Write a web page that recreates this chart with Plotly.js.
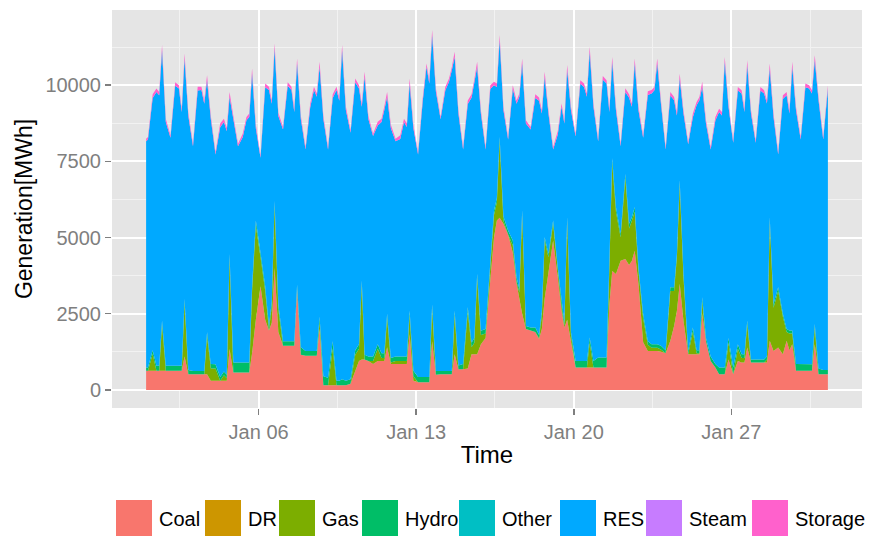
<!DOCTYPE html>
<html>
<head>
<meta charset="utf-8">
<script src="https://cdn.plot.ly/plotly-3.0.1.min.js"></script>
<style>
  html, body { margin: 0; padding: 0; background: #ffffff; }
  #chart { width: 869px; height: 536px; }
</style>
</head>
<body>
<div id="chart"></div>
<script>
// ---- DATA ----
// Sample times (month-day hour), January of the modelled year
const times = [
  '01-01 00','01-01 02','01-01 07','01-01 11','01-01 14','01-01 17','01-01 21',
  '01-02 02','01-02 07','01-02 11','01-02 14','01-02 17','01-02 21',
  '01-03 02','01-03 07','01-03 11','01-03 14','01-03 17','01-03 21',
  '01-04 02','01-04 07','01-04 11','01-04 14','01-04 17','01-04 21',
  '01-05 02','01-05 07','01-05 11','01-05 14','01-05 17','01-05 21',
  '01-06 02','01-06 07','01-06 11','01-06 14','01-06 17','01-06 21',
  '01-07 02','01-07 07','01-07 11','01-07 14','01-07 17','01-07 21',
  '01-08 02','01-08 07','01-08 11','01-08 14','01-08 17','01-08 21',
  '01-09 02','01-09 07','01-09 11','01-09 14','01-09 17','01-09 21',
  '01-10 02','01-10 07','01-10 11','01-10 14','01-10 17','01-10 21',
  '01-11 02','01-11 07','01-11 11','01-11 14','01-11 17','01-11 21',
  '01-12 02','01-12 07','01-12 11','01-12 14','01-12 17','01-12 21',
  '01-13 02','01-13 07','01-13 11','01-13 14','01-13 17','01-13 21',
  '01-14 02','01-14 07','01-14 11','01-14 14','01-14 17','01-14 21',
  '01-15 02','01-15 07','01-15 11','01-15 14','01-15 17','01-15 21',
  '01-16 02','01-16 07','01-16 11','01-16 14','01-16 17','01-16 21',
  '01-17 02','01-17 07','01-17 11','01-17 14','01-17 17','01-17 21',
  '01-18 02','01-18 07','01-18 11','01-18 14','01-18 17','01-18 21',
  '01-19 02','01-19 07','01-19 11','01-19 14','01-19 17','01-19 21',
  '01-20 02','01-20 07','01-20 11','01-20 14','01-20 17','01-20 21',
  '01-21 02','01-21 07','01-21 11','01-21 14','01-21 17','01-21 21',
  '01-22 02','01-22 07','01-22 11','01-22 14','01-22 17','01-22 21',
  '01-23 02','01-23 07','01-23 11','01-23 14','01-23 17','01-23 21',
  '01-24 02','01-24 07','01-24 11','01-24 14','01-24 17','01-24 21',
  '01-25 02','01-25 07','01-25 11','01-25 14','01-25 17','01-25 21',
  '01-26 02','01-26 07','01-26 11','01-26 14','01-26 17','01-26 21',
  '01-27 02','01-27 07','01-27 11','01-27 14','01-27 17','01-27 21',
  '01-28 02','01-28 07','01-28 11','01-28 14','01-28 17','01-28 21',
  '01-29 02','01-29 07','01-29 11','01-29 14','01-29 17','01-29 21',
  '01-30 02','01-30 07','01-30 11','01-30 14','01-30 17','01-30 21',
  '01-31 02','01-31 07'
];

// Upper edge of each stacked band (MWh)
const topCoal = [
  625,625,625,625,625,625,625,
  625,625,625,625,1100,515,
  515,515,515,515,515,300,
  300,300,300,300,1340,570,
  570,570,570,570,1200,2300,
  3400,2300,1950,2200,4000,1900,
  1450,1450,1450,1450,3300,1150,
  1120,1120,1120,1120,2000,150,
  150,150,150,150,150,150,
  200,600,950,1000,1000,950,
  850,950,950,950,1400,850,
  850,850,850,850,1830,300,
  250,250,250,250,1600,500,
  515,515,515,515,1170,680,
  680,700,1170,1170,1170,1500,
  1700,3600,5000,5560,5650,5450,
  5100,4500,3500,3000,2500,2000,
  1940,1900,1670,2000,3000,3800,
  4900,3700,2600,2050,2300,1600,
  735,735,735,735,735,735,
  735,735,735,2800,3900,3800,
  4240,4300,4100,4240,4570,3480,
  1560,1280,1280,1280,1280,1250,
  1200,1610,2100,2600,3480,2270,
  1170,1170,1170,1170,2490,1600,
  950,735,515,515,515,1000,
  515,950,900,900,1390,900,
  900,900,900,900,1610,1280,
  1390,1170,1610,1300,1500,625,
  625,625,625,625,1500,515,
  515,515
];
const topGas = [
  625,625,1180,625,625,2150,625,
  625,625,625,625,2850,515,
  515,515,515,515,1760,700,
  700,300,480,380,4330,570,
  570,570,570,570,3250,5400,
  4350,3250,1950,2750,6050,2650,
  1450,1450,1450,1450,3300,1150,
  1120,1120,1120,1120,2250,150,
  150,1350,150,150,150,150,
  200,1150,1350,3450,1000,950,
  950,1350,1050,1050,2350,900,
  950,950,950,950,2450,450,
  250,250,250,250,2650,500,
  515,515,515,515,2450,680,
  680,2550,1400,1550,3650,1800,
  1850,3850,5750,6150,8150,5550,
  5100,4750,3550,3200,5750,2000,
  1940,1900,1700,2450,4900,4350,
  5450,3900,2750,2100,5550,1800,
  735,735,735,735,1550,735,
  735,735,735,4050,7450,5850,
  5000,6950,5300,5550,5850,3900,
  2350,1480,1380,1380,1380,1330,
  1200,3250,3250,4350,6750,3700,
  1170,1900,1200,1200,2900,1600,
  950,735,515,515,515,1550,
  515,1350,1050,1050,2150,900,
  900,900,900,1000,5550,2700,
  3250,2400,1900,1850,1850,625,
  625,625,625,625,2050,515,
  515,515
];
const topHydro = [
  735,735,1300,790,790,2270,790,
  790,790,790,790,2980,650,
  620,620,620,620,1890,850,
  840,420,600,500,4460,900,
  900,900,900,900,3400,5560,
  4500,3400,2100,2900,6200,2800,
  1600,1600,1600,1600,3450,1400,
  1280,1280,1280,1280,2400,450,
  400,1600,300,300,350,300,
  350,1300,1500,3585,1150,1100,
  1100,1500,1200,1200,2490,1050,
  1100,1100,1100,1100,2600,625,
  420,420,420,420,2800,620,
  620,620,620,620,2600,800,
  850,2710,1550,1700,3800,1940,
  2000,4000,5890,6300,8300,5700,
  5230,4900,3700,3300,5890,2100,
  2050,2050,1800,2600,5010,4460,
  5560,4000,2900,2200,5670,1900,
  950,950,950,950,1720,950,
  1060,1060,1060,4200,7600,6000,
  5120,7090,5450,5670,6000,4020,
  2490,1600,1500,1500,1500,1450,
  1300,3370,3370,4460,6880,3800,
  1280,2050,1300,1300,3040,1700,
  1100,850,735,735,735,1700,
  735,1500,1170,1170,2270,1000,
  1000,1000,1000,1100,5670,2820,
  3370,2500,2000,1950,1950,850,
  844,844,844,844,2160,700,
  650,650
];
const topRES = [
  8165,8220,9580,9780,9670,11150,8790,
  8275,9980,9890,9120,10870,8990,
  8000,9830,9840,9390,10160,8890,
  7730,8620,8790,8490,9610,8890,
  8000,8290,8850,8960,10380,8590,
  7620,9935,9840,9390,11200,8990,
  8550,9980,9840,9120,10710,8890,
  7890,9280,9840,9620,10600,8890,
  7890,9580,9840,9490,11150,9190,
  8440,10100,9890,9290,10270,8890,
  8330,8680,8790,9190,9610,8590,
  8165,8235,8790,8630,10050,8590,
  7730,9480,10600,10055,11640,9790,
  8880,9825,10110,10490,10930,9070,
  7890,9380,9590,10090,10600,9070,
  7890,9880,10000,9945,11480,9190,
  8220,9880,9390,9620,10710,8740,
  8550,9580,9490,9070,10270,9070,
  7890,8380,9290,8740,10490,9190,
  8320,10045,9945,9620,11090,9290,
  8165,10180,10055,9120,10760,9180,
  8000,9780,9590,9290,10710,9180,
  8275,9680,9730,9835,10710,9390,
  7890,9660,9506,9010,10210,9070,
  8060,8950,9340,9506,9940,8740,
  7890,8840,9120,9010,10760,9290,
  8110,9825,9726,9120,10650,9070,
  8110,9825,9726,9397,10543,8958,
  7727,9551,9671,9070,10597,9177,
  8220,9935,9890,9726,10817,9506,
  8220,9880
];
const topStorage = [
  8245,8300,9700,9890,9780,11320,8900,
  8355,10100,10000,9230,11040,9100,
  8080,9950,9950,9500,10330,9000,
  7810,8740,8900,8600,9780,9000,
  8080,8410,8960,9070,10550,8700,
  7700,10055,9950,9500,11370,9100,
  8630,10100,9950,9230,10880,9000,
  7970,9400,9950,9730,10770,9000,
  7970,9700,9950,9600,11320,9300,
  8520,10220,10000,9400,10440,9000,
  8410,8800,8900,9300,9780,8700,
  8245,8355,8900,8740,10220,8700,
  7810,9600,10710,10165,11810,9900,
  8960,9945,10220,10600,11100,9180,
  7970,9500,9700,10200,10770,9180,
  7970,10000,10110,10055,11650,9300,
  8300,10000,9500,9730,10880,8850,
  8630,9700,9600,9180,10440,9180,
  7970,8500,9400,8850,10660,9300,
  8400,10165,10055,9730,11260,9400,
  8245,10300,10165,9230,10930,9290,
  8080,9900,9700,9400,10880,9290,
  8355,9800,9840,9945,10880,9500,
  7970,9780,9616,9120,10380,9180,
  8140,9070,9450,9616,10110,8850,
  7970,8960,9230,9120,10930,9400,
  8190,9945,9836,9230,10820,9180,
  8190,9945,9836,9507,10713,9068,
  7807,9671,9781,9180,10767,9287,
  8300,10055,10000,9836,10987,9616,
  8300,10000
];

// Legend categories and colours (ggplot hue palette)
const categories = ['Coal','DR','Gas','Hydro','Other','RES','Steam','Storage'];
const colors = ['#F8766D','#CD9600','#7CAE00','#00BE67','#00BFC4','#00A9FF','#C77CFF','#FF61CC'];
// Upper edge of each category's band (DR, Other, Steam are empty bands)
const bandTops = [topCoal, topCoal, topGas, topHydro, topHydro, topRES, topRES, topStorage];

// Axis ticks
const xTickVals = ['2014-01-06','2014-01-13','2014-01-20','2014-01-27'];
const xTickText = ['Jan 06','Jan 13','Jan 20','Jan 27'];
const xMinorVals = ['2014-01-02 12:00','2014-01-09 12:00','2014-01-16 12:00','2014-01-23 12:00','2014-01-30 12:00'];
const yTickVals = [0, 2500, 5000, 7500, 10000];
const yMinorVals = [1250, 3750, 6250, 8750, 11250];

// ---- BUILD ----
const x = times.map(s => '2014-' + s + ':00');
const traces = categories.map((name, i) => ({
  type: 'scatter',
  mode: 'lines',
  name: name,
  x: x,
  y: bandTops[i],
  line: { width: 0, color: colors[i] },
  fill: i === 0 ? 'tozeroy' : 'tonexty',
  fillcolor: colors[i],
  hoverinfo: 'skip',
  showlegend: false
}));

const W = 869, H = 536;
const M = { l: 112, r: 7, t: 10, b: 128 };
const pw = W - M.l - M.r, ph = H - M.t - M.b;
const px2x = px => (px - M.l) / pw;
const py2y = py => (H - M.b - py) / ph;

// manual ggplot-style legend along the bottom
const keyLeft = [116, 205, 279, 362, 459, 560, 646, 752];
const keySize = 36, keyTop = 500;
const shapes = [];
const annotations = [];
categories.forEach((c, i) => {
  shapes.push({
    type: 'rect', xref: 'paper', yref: 'paper', layer: 'above',
    x0: px2x(keyLeft[i]), x1: px2x(keyLeft[i] + keySize),
    y0: py2y(keyTop), y1: py2y(keyTop + keySize + 4),
    fillcolor: colors[i], line: { width: 0 }
  });
  annotations.push({
    xref: 'paper', yref: 'paper', showarrow: false,
    x: px2x(keyLeft[i] + keySize + 5), y: py2y(519),
    xanchor: 'left', yanchor: 'middle',
    text: c, font: { family: 'Liberation Sans, Arial, sans-serif', size: 20, color: '#000000' }
  });
});

const tickFont = { family: 'Liberation Sans, Arial, sans-serif', size: 20, color: '#7F7F7F' };
const titleFont = { family: 'Liberation Sans, Arial, sans-serif', size: 24, color: '#000000' };

const layout = {
  width: W, height: H,
  margin: M,
  paper_bgcolor: '#FFFFFF',
  plot_bgcolor: '#E5E5E5',
  showlegend: false,
  xaxis: {
    type: 'date',
    range: ['2013-12-30 11:38', '2014-02-01 19:22'],
    tickmode: 'array', tickvals: xTickVals, ticktext: xTickText,
    tickfont: tickFont,
    ticks: 'outside', ticklen: 6, tickwidth: 1.5, tickcolor: '#7F7F7F',
    showgrid: true, gridcolor: '#FFFFFF', gridwidth: 2,
    minor: { tickmode: 'array', tickvals: xMinorVals, showgrid: true, gridcolor: '#F2F2F2', gridwidth: 1, ticks: '' },
    zeroline: false, showline: false,
    title: { text: 'Time', font: titleFont, standoff: 4 },
    automargin: false
  },
  yaxis: {
    range: [-594, 12469],
    tickmode: 'array', tickvals: yTickVals, ticktext: yTickVals.map(String),
    tickfont: tickFont,
    ticks: 'outside', ticklen: 6, tickwidth: 1.5, tickcolor: '#7F7F7F',
    showgrid: true, gridcolor: '#FFFFFF', gridwidth: 2,
    minor: { tickmode: 'array', tickvals: yMinorVals, showgrid: true, gridcolor: '#F2F2F2', gridwidth: 1, ticks: '' },
    zeroline: false, showline: false,
    title: { text: 'Generation[MWh]', font: { family: 'Liberation Sans, Arial, sans-serif', size: 23, color: '#000000' }, standoff: 6 },
    automargin: false
  },
  shapes: shapes,
  annotations: annotations
};

Plotly.newPlot('chart', traces, layout, { displayModeBar: false, staticPlot: true });
</script>
</body>
</html>
